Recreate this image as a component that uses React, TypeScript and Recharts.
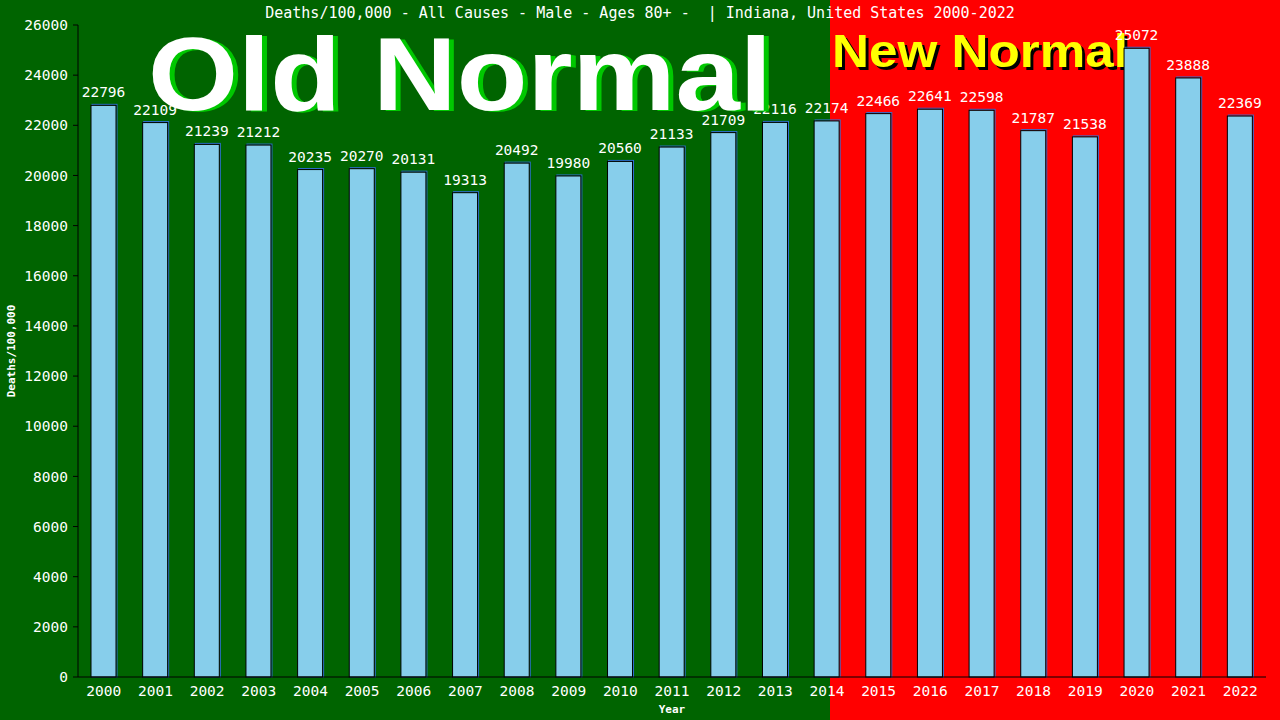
import { Bar, BarChart, LabelList, XAxis, YAxis } from "recharts";

const years = ["2000", "2001", "2002", "2003", "2004", "2005", "2006", "2007", "2008", "2009", "2010", "2011", "2012", "2013", "2014", "2015", "2016", "2017", "2018", "2019", "2020", "2021", "2022"];
const deaths = [22796, 22109, 21239, 21212, 20235, 20270, 20131, 19313, 20492, 19980, 20560, 21133, 21709, 22116, 22174, 22466, 22641, 22598, 21787, 21538, 25072, 23888, 22369];
const yTicks = [0, 2000, 4000, 6000, 8000, 10000, 12000, 14000, 16000, 18000, 20000, 22000, 24000, 26000];

const TITLE = "Deaths/100,000 - All Causes - Male - Ages 80+ -  | Indiana, United States 2000-2022";
const MONO = "'DejaVu Sans Mono', 'Liberation Mono', monospace";
const SANS = "'Liberation Sans', Arial, sans-serif";

const data = years.map((year, i) => ({ year, deaths: deaths[i] }));

// light blue bar with a black outline and a thin blue edge up-right
function BarShape(props: any) {
  const { x, y, width, height } = props;
  if (!height) return null;
  return (
    <g>
      <rect x={x + 1} y={y - 1} width={width} height={height + 1} fill="none" stroke="#2f6fd6" strokeWidth={1} />
      <rect x={x} y={y} width={width} height={height} fill="#87ceeb" stroke="#000" strokeWidth={1} />
    </g>
  );
}

function YTitle(props: any) {
  const { viewBox } = props;
  const cy = viewBox.y + viewBox.height / 2;
  return (
    <text x={15} y={cy} transform={`rotate(-90, 15, ${cy})`} textAnchor="middle" fill="#fff" fontFamily={MONO} fontWeight="bold" fontSize={11}>
      Deaths/100,000
    </text>
  );
}

function XTitle(props: any) {
  const { viewBox } = props;
  return (
    <text x={viewBox.x + viewBox.width / 2} y={713} textAnchor="middle" fill="#fff" fontFamily={MONO} fontWeight="bold" fontSize={11}>
      Year
    </text>
  );
}

export default function App() {
  return (
    <div style={{ position: "absolute", left: 0, top: 0, width: 1280, height: 720, overflow: "hidden" }}>
      <svg width={1280} height={720} style={{ position: "absolute", left: 0, top: 0 }}>
        <rect x={0} y={0} width={830} height={720} fill="#006400" />
        <rect x={830} y={0} width={450} height={720} fill="#ff0000" />
        <text x={640} y={18} textAnchor="middle" fill="#fff" fontFamily={MONO} fontSize={15} xmlSpace="preserve">
          {TITLE}
        </text>
        <text x={835} y={70} fill="#000" fontFamily={SANS} fontWeight="bold" fontSize={46} textLength={296} lengthAdjust="spacingAndGlyphs">
          New Normal
        </text>
        <text x={832} y={67} fill="#ffff00" fontFamily={SANS} fontWeight="bold" fontSize={46} textLength={296} lengthAdjust="spacingAndGlyphs">
          New Normal
        </text>
      </svg>
      <div style={{ position: "absolute", left: 0, top: 0 }}>
        <BarChart width={1280} height={720} data={data} margin={{ top: 25, right: 14, bottom: 13, left: 18 }} barSize={25}>
          <XAxis
            dataKey="year"
            axisLine={{ stroke: "#000" }}
            tickLine={false}
            tickSize={4}
            tickMargin={5}
            tick={{ fill: "#fff", fontFamily: MONO, fontSize: 14.5 }}
            interval={0}
            height={30}
            label={<XTitle />}
          />
          <YAxis
            yAxisId="left"
            domain={[0, 26000]}
            ticks={yTicks}
            interval={0}
            width={60}
            axisLine={{ stroke: "#000" }}
            tickLine={{ stroke: "#000" }}
            tickSize={5}
            tickMargin={5}
            tick={{ fill: "#fff", fontFamily: MONO, fontSize: 14.5 }}
            label={<YTitle />}
          />
          <YAxis yAxisId="right" orientation="right" domain={[0, 26000]} width={0} tick={false} tickLine={false} axisLine={{ stroke: "#000" }} />
          <Bar yAxisId="left" dataKey="deaths" shape={<BarShape />} isAnimationActive={false}>
            <LabelList dataKey="deaths" position="top" offset={8} fill="#fff" fontFamily={MONO} fontSize={14.5} />
          </Bar>
        </BarChart>
      </div>
      <svg width={1280} height={720} style={{ position: "absolute", left: 0, top: 0, pointerEvents: "none" }}>
        <text x={153} y={111} fill="#00c800" fontFamily={SANS} fontWeight="bold" fontSize={103} textLength={624} lengthAdjust="spacingAndGlyphs">
          Old Normal
        </text>
        <text x={148} y={110} fill="#fff" fontFamily={SANS} fontWeight="bold" fontSize={103} textLength={624} lengthAdjust="spacingAndGlyphs">
          Old Normal
        </text>
      </svg>
    </div>
  );
}
